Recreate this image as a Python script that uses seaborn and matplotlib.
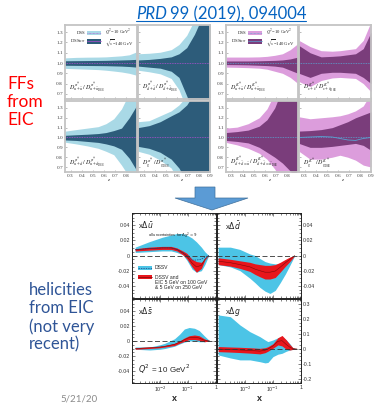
import numpy as np
import matplotlib
matplotlib.use("Agg")
import matplotlib.pyplot as plt
import seaborn as sns
from matplotlib.patches import Rectangle, Polygon
from matplotlib.lines import Line2D
from matplotlib.ticker import AutoMinorLocator, FixedLocator, LogLocator, NullFormatter

W, H = 375, 404

# ---- fragmentation function ratios (top block) ----
ff_z = [0.25, 0.35, 0.45, 0.55, 0.62, 0.69, 0.76, 0.83, 0.9]

pi_u_light_hi = [1.050, 1.055, 1.057, 1.058, 1.060, 1.065, 1.070, 1.080, 1.110]
pi_u_dark_hi = [1.022, 1.023, 1.024, 1.025, 1.026, 1.028, 1.030, 1.032, 1.036]
pi_u_dark_lo = [0.978, 0.977, 0.976, 0.975, 0.974, 0.972, 0.970, 0.966, 0.960]
pi_u_light_lo = [0.948, 0.944, 0.940, 0.936, 0.930, 0.922, 0.913, 0.900, 0.880]

pi_d_light_hi = [1.090, 1.095, 1.105, 1.130, 1.180, 1.270, 1.420, 1.500, 1.500]
pi_d_dark_hi = [1.030, 1.035, 1.045, 1.060, 1.090, 1.150, 1.280, 1.450, 1.500]
pi_d_dark_lo = [0.970, 0.960, 0.950, 0.920, 0.860, 0.680, 0.500, 0.500, 0.500]
pi_d_light_lo = [0.930, 0.915, 0.895, 0.850, 0.740, 0.550, 0.500, 0.500, 0.500]

pi_s_light_hi = [1.064, 1.080, 1.095, 1.110, 1.140, 1.190, 1.290, 1.450, 1.500]
pi_s_dark_hi = [1.022, 1.028, 1.033, 1.040, 1.050, 1.070, 1.095, 1.200, 1.330]
pi_s_dark_lo = [0.975, 0.970, 0.960, 0.950, 0.935, 0.915, 0.880, 0.790, 0.660]
pi_s_light_lo = [0.952, 0.935, 0.915, 0.890, 0.860, 0.825, 0.720, 0.600, 0.500]

pi_g_light_hi = [1.160, 1.170, 1.220, 1.270, 1.330, 1.420, 1.500, 1.500, 1.500]
pi_g_dark_hi = [1.100, 1.120, 1.160, 1.220, 1.260, 1.330, 1.450, 1.500, 1.500]
pi_g_dark_lo = [0.910, 0.890, 0.850, 0.780, 0.690, 0.550, 0.500, 0.500, 0.500]
pi_g_light_lo = [0.860, 0.830, 0.770, 0.690, 0.550, 0.500, 0.500, 0.500, 0.500]

k_u_light_hi = [1.058, 1.058, 1.058, 1.060, 1.065, 1.075, 1.090, 1.130, 1.190]
k_u_dark_hi = [1.020, 1.020, 1.020, 1.022, 1.024, 1.026, 1.030, 1.040, 1.058]
k_u_dark_lo = [0.985, 0.984, 0.982, 0.978, 0.975, 0.970, 0.960, 0.930, 0.900]
k_u_light_lo = [0.960, 0.958, 0.955, 0.950, 0.940, 0.920, 0.900, 0.860, 0.800]

k_s_light_hi = [1.220, 1.160, 1.120, 1.115, 1.120, 1.130, 1.140, 1.220, 1.400]
k_s_dark_hi = [1.170, 1.100, 1.060, 1.065, 1.070, 1.080, 1.090, 1.140, 1.300]
k_s_dark_lo = [0.900, 0.860, 0.900, 0.910, 0.910, 0.905, 0.900, 0.860, 0.800]
k_s_light_lo = [0.820, 0.770, 0.830, 0.855, 0.860, 0.855, 0.850, 0.800, 0.720]

k_d_light_hi = [1.095, 1.105, 1.140, 1.200, 1.290, 1.450, 1.500, 1.500, 1.500]
k_d_dark_hi = [1.050, 1.060, 1.075, 1.115, 1.180, 1.300, 1.500, 1.500, 1.500]
k_d_dark_lo = [0.970, 0.960, 0.945, 0.900, 0.850, 0.800, 0.740, 0.660, 0.550]
k_d_light_lo = [0.950, 0.925, 0.890, 0.840, 0.780, 0.680, 0.550, 0.500, 0.500]

k_g_light_hi = [1.210, 1.190, 1.200, 1.210, 1.220, 1.240, 1.270, 1.320, 1.450]
k_g_dark_hi = [1.065, 1.070, 1.080, 1.100, 1.130, 1.160, 1.200, 1.230, 1.260]
k_g_dark_lo = [0.940, 0.900, 0.900, 0.910, 0.920, 0.930, 0.940, 0.920, 0.870]
k_g_light_lo = [0.860, 0.780, 0.780, 0.800, 0.820, 0.800, 0.770, 0.720, 0.700]
k_g_central = [1.000, 1.005, 1.010, 1.005, 0.990, 0.975, 0.970, 0.990, 1.000]

ff_labels = [
    r"$D^{\pi^+}_{u+\bar{u}}\,/\,D^{\pi^+}_{u+\bar{u}_{\rm DSS}}$",
    r"$D^{\pi^+}_{d+\bar{d}}\,/\,D^{\pi^+}_{d+\bar{d}_{\rm DSS}}$",
    r"$D^{K^+}_{u+\bar{u}}\,/\,D^{K^+}_{u+\bar{u}_{\rm DSS}}$",
    r"$D^{K^+}_{s+\bar{s}}\,/\,D^{K^+}_{s+\bar{s}_{\rm DSS}}$",
    r"$D^{\pi^+}_{\bar{u}+d}\,/\,D^{\pi^+}_{\bar{u}+d_{\rm DSS}}$",
    r"$D^{\pi^+}_{g}\,/\,D^{\pi^+}_{g_{\rm DSS}}$",
    r"$D^{K^+}_{d+\bar{d}=\bar{u}}\,/\,D^{K^+}_{d+\bar{d}=\bar{u}_{\rm DSS}}$",
    r"$D^{K^+}_{g}\,/\,D^{K^+}_{g_{\rm DSS}}$",
]
ff_yticks = [0.7, 0.8, 0.9, 1.0, 1.1, 1.2, 1.3]
ff_xticks = [0.3, 0.4, 0.5, 0.6, 0.7, 0.8, 0.9]

# ---- helicity distributions (bottom block) ----
ubar_x = [0.0013, 0.004, 0.012, 0.025, 0.04, 0.065, 0.09, 0.14, 0.2, 0.3, 0.4, 0.55]
ubar_dssv_hi = [0.011, 0.018, 0.024, 0.027, 0.029, 0.029, 0.027, 0.023, 0.018, 0.011, 0.005, 0.0]
ubar_dssv_lo = [0.004, 0.005, 0.006, 0.006, 0.004, 0.001, -0.006, -0.018, -0.022, -0.020, -0.012, 0.0]
ubar_eic_hi = [0.009, 0.011, 0.012, 0.012, 0.010, 0.006, 0.003, -0.005, -0.008, -0.009, -0.004, 0.0]
ubar_eic_lo = [0.006, 0.007, 0.008, 0.008, 0.006, 0.001, -0.004, -0.015, -0.022, -0.017, -0.006, 0.0]
ubar_dssv_mid = [0.0075, 0.009, 0.010, 0.010, 0.008, 0.004, 0.000, -0.006, -0.006, -0.005, -0.002, 0.0]

dbar_x = [0.0011, 0.003, 0.0066, 0.015, 0.023, 0.034, 0.052, 0.078, 0.12, 0.18, 0.28, 0.4, 0.6]
dbar_dssv_hi = [0.011, 0.011, 0.008, 0.002, 0.0, -0.004, -0.008, -0.010, -0.011, -0.011, -0.009, -0.005, 0.0]
dbar_dssv_lo = [-0.012, -0.015, -0.020, -0.030, -0.036, -0.042, -0.047, -0.050, -0.046, -0.036, -0.024, -0.013, 0.0]
dbar_eic_hi = [-0.003, -0.005, -0.007, -0.009, -0.011, -0.012, -0.013, -0.013, -0.012, -0.009, -0.005, -0.002, 0.0]
dbar_eic_lo = [-0.012, -0.014, -0.017, -0.021, -0.025, -0.028, -0.031, -0.031, -0.029, -0.022, -0.014, -0.008, 0.0]

sbar_x = [0.0013, 0.0043, 0.01, 0.015, 0.033, 0.05, 0.074, 0.11, 0.17, 0.25, 0.38, 0.6]
sbar_dssv_hi = [-0.008, -0.008, -0.005, -0.003, 0.003, 0.009, 0.016, 0.018, 0.017, 0.014, 0.007, 0.0]
sbar_dssv_lo = [-0.011, -0.012, -0.011, -0.010, -0.007, -0.004, -0.0015, 0.0, 0.0, -0.001, -0.001, 0.0]
sbar_eic_hi = [-0.009, -0.008, -0.007, -0.006, -0.003, 0.0, 0.004, 0.007, 0.008, 0.007, 0.003, 0.0]
sbar_eic_lo = [-0.011, -0.010, -0.009, -0.008, -0.006, -0.003, -0.0005, 0.002, 0.002, 0.001, -0.001, 0.0]

g_x = [0.0011, 0.003, 0.0066, 0.015, 0.034, 0.052, 0.066, 0.1, 0.15, 0.21, 0.3, 0.4, 0.52, 0.72]
g_dssv_hi = [0.227, 0.215, 0.160, 0.115, 0.082, 0.060, 0.049, 0.060, 0.075, 0.082, 0.060, 0.035, 0.007, 0.0]
g_dssv_lo = [-0.040, -0.060, -0.073, -0.073, -0.085, -0.093, -0.090, -0.051, -0.035, -0.029, -0.015, -0.007, -0.002, 0.0]
g_eic_hi = [0.016, 0.013, 0.011, 0.008, 0.004, 0.008, 0.015, 0.035, 0.075, 0.090, 0.060, 0.030, 0.007, 0.0]
g_eic_lo = [-0.018, -0.021, -0.024, -0.028, -0.033, -0.025, -0.015, 0.005, 0.027, 0.020, -0.002, -0.007, -0.003, 0.0]

hel_titles = [r"x$\Delta\bar{u}$", r"x$\Delta\bar{d}$", r"x$\Delta\bar{s}$", r"x$\Delta g$"]
hel_ticks_small = [-0.04, -0.02, 0, 0.02, 0.04]
hel_ticklabels_small = ["-0.04", "-0.02", "0", "0.02", "0.04"]
hel_ticks_g = [-0.2, -0.1, 0, 0.1, 0.2, 0.3]
hel_ticklabels_g = ["-0.2", "-0.1", "0", "0.1", "0.2", "0.3"]

# colours
PI_LIGHT, PI_DARK = "#a9d9e6", "#2d5c7a"
K_LIGHT, K_DARK = "#dc9ddc", "#7a3d7b"
CYAN, RED = "#4cc4e6", "#e8161c"

sns.set_theme(style="white")
plt.rcParams["font.family"] = ["Lato", "DejaVu Sans"]

fig = plt.figure(figsize=(W / 100, H / 100), dpi=100)


def box(x0, y0, x1, y1):
    return [x0 / W, 1 - y1 / H, (x1 - x0) / W, (y1 - y0) / H]


def fx(x, y):
    return (x / W, 1 - y / H)


# ---------------- top block ----------------
ff_cols = [(65, 137), (138, 210), (226, 298), (299, 371)]
ff_rows = [(25, 99), (101, 172)]
ff_sets = [
    (pi_u_light_hi, pi_u_dark_hi, pi_u_dark_lo, pi_u_light_lo),
    (pi_d_light_hi, pi_d_dark_hi, pi_d_dark_lo, pi_d_light_lo),
    (k_u_light_hi, k_u_dark_hi, k_u_dark_lo, k_u_light_lo),
    (k_s_light_hi, k_s_dark_hi, k_s_dark_lo, k_s_light_lo),
    (pi_s_light_hi, pi_s_dark_hi, pi_s_dark_lo, pi_s_light_lo),
    (pi_g_light_hi, pi_g_dark_hi, pi_g_dark_lo, pi_g_light_lo),
    (k_d_light_hi, k_d_dark_hi, k_d_dark_lo, k_d_light_lo),
    (k_g_light_hi, k_g_dark_hi, k_g_dark_lo, k_g_light_lo),
]
serif = "Liberation Serif"

for i in range(8):
    r, c = divmod(i, 4)
    ax = fig.add_axes(box(ff_cols[c][0], ff_rows[r][0], ff_cols[c][1], ff_rows[r][1]))
    lhi, dhi, dlo, llo = ff_sets[i]
    kaon = c >= 2
    light, dark = (K_LIGHT, K_DARK) if kaon else (PI_LIGHT, PI_DARK)
    ax.fill_between(ff_z, llo, lhi, color=light, lw=0)
    ax.fill_between(ff_z, dlo, dhi, color=dark, lw=0)
    mid_col = "#5aa0d0" if kaon else "#b04fd0"
    sns.lineplot(x=ff_z, y=[1.0] * len(ff_z), ax=ax, color=mid_col, lw=0.6, ls=(0, (1, 1)))
    if i == 7:
        sns.lineplot(x=ff_z, y=k_g_central, ax=ax, color="#5aa0d0", lw=0.6)
    ax.set_xlim(0.25, 0.9)
    ax.set_ylim(0.65, 1.37)
    for s in ax.spines.values():
        s.set_color("#c4c4c4")
        s.set_linewidth(1.3)
    ax.yaxis.set_major_locator(FixedLocator(ff_yticks))
    ax.xaxis.set_major_locator(FixedLocator(ff_xticks if c in (1, 3) else ff_xticks[:-1]))
    ax.tick_params(direction="in", length=1.5, width=0.4, color="#888888", labelsize=3.8,
                   labelcolor="#444444", pad=1.5, left=True, bottom=True)
    if c in (0, 2):
        ax.set_yticklabels([f"{t:.1f}" for t in ff_yticks], family=serif)
    else:
        ax.set_yticklabels([])
    if r == 1:
        labs = ff_xticks if c in (1, 3) else ff_xticks[:-1]
        ax.set_xticklabels([f"{t:.1f}" for t in labs], family=serif)
        ax.set_xlabel("z", fontsize=3.8, family=serif, style="italic", labelpad=-2.5)
        ax.xaxis.set_label_coords(0.6, -0.09)
    else:
        ax.set_xticklabels([])
    ax.text(0.05, 0.12 if r == 0 else 0.1, ff_labels[i], transform=ax.transAxes, fontsize=4.3,
            math_fontfamily="stix", color="#222222")
    if i in (0, 2):
        # legend block
        ax.text(0.29, 0.89, "DSS", transform=ax.transAxes, fontsize=3.4, family=serif, ha="right", va="center")
        ax.text(0.29, 0.78, r"DSS$_{\rm rew}$", transform=ax.transAxes, fontsize=3.4, family=serif,
                ha="right", va="center", math_fontfamily="stix")
        ax.add_patch(Rectangle((0.30, 0.86), 0.2, 0.06, transform=ax.transAxes, color=light, lw=0))
        ax.add_patch(Rectangle((0.30, 0.75), 0.2, 0.06, transform=ax.transAxes, color=dark, lw=0))
        ax.add_line(Line2D([0.30, 0.50], [0.89, 0.89], transform=ax.transAxes, color=mid_col, lw=0.5, ls=(0, (1, 1))))
        ax.add_line(Line2D([0.30, 0.50], [0.78, 0.78], transform=ax.transAxes, color=mid_col, lw=0.5))
        ax.text(0.55, 0.905, r"$Q^2$=10 GeV$^2$", transform=ax.transAxes, fontsize=3.3, family=serif,
                va="center", math_fontfamily="stix")
        ax.text(0.55, 0.76, r"$\sqrt{s}$=140 GeV", transform=ax.transAxes, fontsize=3.3, family=serif,
                va="center", math_fontfamily="stix")

# ---------------- bottom block ----------------
hel_cols = [(132, 216), (217, 301)]
hel_rows = [(213, 298), (299, 383)]
hel_sets = [
    (ubar_x, ubar_dssv_hi, ubar_dssv_lo, ubar_eic_hi, ubar_eic_lo),
    (dbar_x, dbar_dssv_hi, dbar_dssv_lo, dbar_eic_hi, dbar_eic_lo),
    (sbar_x, sbar_dssv_hi, sbar_dssv_lo, sbar_eic_hi, sbar_eic_lo),
    (g_x, g_dssv_hi, g_dssv_lo, g_eic_hi, g_eic_lo),
]

for i in range(4):
    r, c = divmod(i, 2)
    ax = fig.add_axes(box(hel_cols[c][0], hel_rows[r][0], hel_cols[c][1], hel_rows[r][1]))
    xs, chi, clo, rhi, rlo = hel_sets[i]
    ax.fill_between(xs, clo, chi, color=CYAN, lw=0)
    ax.fill_between(xs, rlo, rhi, color=RED, lw=0)
    ax.set_xscale("log")
    mid = (np.array(rhi) + np.array(rlo)) / 2
    sns.lineplot(x=xs, y=mid, ax=ax, color="#7a0a0a", lw=0.4)
    if i == 0:
        sns.lineplot(x=xs, y=ubar_dssv_mid, ax=ax, color="#1c3f80", lw=0.5, ls=(0, (2, 1.5)))
    ax.axhline(0, color="#333333", lw=0.6, ls=(0, (6, 3)), zorder=3)
    ax.set_xlim(1e-3, 1)
    if i == 3:
        ax.set_ylim(-0.227, 0.333)
        ax.set_yticks(hel_ticks_g)
        ax.set_yticklabels(hel_ticklabels_g)
    else:
        ax.set_ylim(-0.056, 0.056)
        ax.set_yticks(hel_ticks_small)
        ax.set_yticklabels(hel_ticklabels_small)
    ax.yaxis.set_minor_locator(AutoMinorLocator(4))
    ax.xaxis.set_major_locator(FixedLocator([1e-3, 1e-2, 1e-1, 1]))
    ax.xaxis.set_minor_locator(LogLocator(base=10, subs=np.arange(2, 10), numticks=20))
    ax.xaxis.set_minor_formatter(NullFormatter())
    for s in ax.spines.values():
        s.set_color("#222222")
        s.set_linewidth(0.7)
    ax.tick_params(which="both", direction="in", top=True, bottom=True, left=True, right=True,
                   width=0.4, color="#222222", labelsize=3.8, labelcolor="#333333", pad=1.5,
                   labelleft=(c == 0), labelright=(c == 1))
    ax.tick_params(which="major", length=2.5)
    ax.tick_params(which="minor", length=1.3)
    for lab in ax.get_yticklabels():
        lab.set_family("Liberation Sans")
    if r == 1:
        ax.set_xticklabels(["", r"10$^{-2}$", r"10$^{-1}$", "1"], family="Liberation Sans")
        ax.set_xlabel("x", fontsize=6.5, fontweight="bold", family="Liberation Sans", labelpad=0)
    else:
        ax.set_xticklabels([])
    ax.text(0.07 if c == 0 else 0.09, 0.93, hel_titles[i], transform=ax.transAxes, fontsize=5.5,
            family="Liberation Sans", va="top", color="#222222")

    if i == 0:
        ax.text(0.19, 0.72, r"all uncertainties for $\Delta\chi^2=9$", transform=ax.transAxes,
                fontsize=2.8, family="Liberation Sans")
        ax.add_patch(Rectangle((0.07, 0.33), 0.17, 0.05, transform=ax.transAxes, color=CYAN, lw=0))
        ax.add_line(Line2D([0.07, 0.24], [0.355, 0.355], transform=ax.transAxes, color="#1c3f80",
                           lw=0.5, ls=(0, (2, 1.5))))
        ax.add_patch(Rectangle((0.07, 0.225), 0.17, 0.05, transform=ax.transAxes, color=RED, lw=0))
        ax.add_line(Line2D([0.07, 0.24], [0.25, 0.25], transform=ax.transAxes, color="#7a0a0a", lw=0.5))
        ax.text(0.27, 0.355, "DSSV", transform=ax.transAxes, fontsize=3.6, va="center",
                family="Liberation Sans")
        ax.text(0.27, 0.275, "DSSV and\nEIC 5 GeV on 100 GeV\n& 5 GeV on 250 GeV",
                transform=ax.transAxes, fontsize=3.6, va="top", family="Liberation Sans",
                linespacing=1.1)
    if i == 2:
        ax.text(0.07, 0.12, r"$Q^2$ = 10 GeV$^2$", transform=ax.transAxes, fontsize=5.8,
                family="Liberation Sans", math_fontfamily="dejavusans")

# ---------------- slide decorations ----------------
arrow = [fx(195, 187), fx(215, 187), fx(215, 198), fx(248, 198), fx(212, 210), fx(175, 198), fx(195, 198)]
fig.patches.append(Polygon(arrow, closed=True, transform=fig.transFigure, facecolor="#5b9bd5",
                           edgecolor="#41719c", lw=0.5))

t1 = fig.text(136 / W, 1 - 19 / H, "PRD", fontsize=12, style="italic", color="#0563c1")
fig.canvas.draw()
bb = t1.get_window_extent()
t2 = fig.text(bb.x1 / W + 3 / W, 1 - 19 / H, "99 (2019), 094004", fontsize=12, color="#0563c1")
fig.canvas.draw()
bb2 = t2.get_window_extent()
fig.add_artist(Line2D([136 / W, bb2.x1 / W], [1 - 21 / H, 1 - 21 / H], transform=fig.transFigure,
                      color="#0563c1", lw=0.8))

fig.text(7 / W, 1 - 76 / H, "FFs\nfrom\nEIC", fontsize=12.5, color="#ff0000", va="top", linespacing=1.15)
fig.text(29 / W, 1 - 282 / H, "helicities\nfrom EIC\n(not very\nrecent)", fontsize=12,
         color="#2f5597", va="top", linespacing=1.15)
fig.text(60 / W, 1 - 402 / H, "5/21/20", fontsize=7, color="#8a8a8a")

fig.savefig("out.png", dpi=100)
